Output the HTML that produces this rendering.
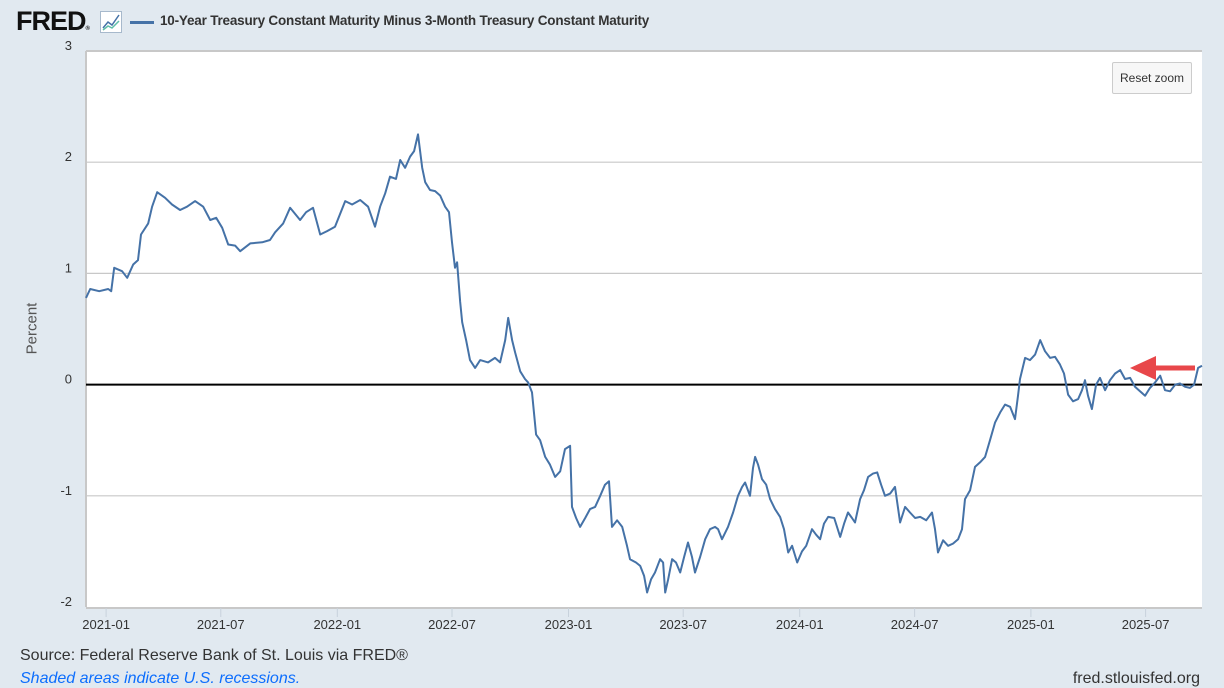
<!DOCTYPE html>
<html><head><meta charset="utf-8">
<style>
html,body{margin:0;padding:0;}
body{width:1224px;height:687px;background:#e1e9f0;font-family:"Liberation Sans",sans-serif;position:relative;overflow:hidden;}
.abs{position:absolute;}
</style></head>
<body>
<div class="abs" style="left:16px;top:6px;font-size:27px;font-weight:bold;letter-spacing:-1px;color:#111;">FRED<span style="font-size:6px;">®</span></div>
<svg class="abs" style="left:100px;top:11px" width="22" height="22" viewBox="0 0 22 22">
<rect x="0.5" y="0.5" width="21" height="21" fill="#fff" stroke="#a7b9cc"/>
<polyline points="3,17 8,11 12,14 19,4" fill="none" stroke="#4572a7" stroke-width="1.5"/>
<polyline points="3,19 8,15 12,17 19,10" fill="none" stroke="#5fbfa8" stroke-width="1.5"/>
</svg>
<div class="abs" style="left:130px;top:21px;width:24px;height:3px;background:#4572a7"></div>
<div class="abs" style="left:160px;top:13px;font-size:13.5px;font-weight:bold;color:#333;letter-spacing:-0.2px">10-Year Treasury Constant Maturity Minus 3-Month Treasury Constant Maturity</div>
<svg id="chart" class="abs" style="left:0;top:0" width="1224" height="687"></svg>
<div class="abs" style="left:1112px;top:62px;width:80px;height:32px;box-sizing:border-box;border:1px solid #ccc;border-radius:2px;background:#f7f7f7;font-size:12px;color:#333;text-align:center;line-height:30px">Reset zoom</div>
<div class="abs" style="left:2px;top:320px;width:60px;text-align:center;transform:rotate(-90deg);font-size:15px;color:#555">Percent</div>
<div class="abs" style="left:20px;top:647px;font-size:16px;color:#333">Source: Federal Reserve Bank of St. Louis via FRED®</div>
<div class="abs" style="left:20px;top:670px;font-size:16px;color:#0d6efd;font-style:italic">Shaded areas indicate U.S. recessions.</div>
<div class="abs" style="right:24px;top:670px;font-size:16px;color:#333">fred.stlouisfed.org</div>
<script>
// years since 2021-01-01
const dates=[-0.087,-0.069,-0.030,0.009,0.022,0.035,0.069,0.091,0.117,0.138,0.151,0.182,0.199,0.221,0.255,0.285,0.320,0.350,0.385,0.420,0.450,0.476,0.502,0.528,0.558,0.580,0.623,0.675,0.709,0.731,0.766,0.796,0.839,0.865,0.895,0.926,0.956,0.990,1.034,1.064,1.099,1.133,1.163,1.185,1.207,1.228,1.254,1.272,1.293,1.315,1.332,1.349,1.367,1.380,1.401,1.423,1.445,1.466,1.483,1.496,1.509,1.518,1.531,1.540,1.557,1.574,1.596,1.618,1.652,1.682,1.704,1.726,1.739,1.756,1.769,1.791,1.812,1.825,1.842,1.860,1.877,1.899,1.920,1.942,1.964,1.985,2.007,2.015,2.033,2.050,2.072,2.093,2.115,2.137,2.158,2.175,2.188,2.210,2.232,2.253,2.266,2.292,2.310,2.327,2.340,2.357,2.374,2.396,2.409,2.418,2.431,2.448,2.465,2.483,2.500,2.517,2.534,2.547,2.569,2.591,2.612,2.634,2.647,2.664,2.690,2.712,2.733,2.751,2.764,2.785,2.798,2.807,2.820,2.837,2.855,2.872,2.893,2.915,2.932,2.950,2.967,2.989,3.010,3.028,3.053,3.071,3.088,3.105,3.123,3.149,3.175,3.192,3.209,3.226,3.239,3.261,3.278,3.296,3.317,3.335,3.352,3.369,3.391,3.412,3.434,3.456,3.477,3.499,3.521,3.547,3.572,3.585,3.598,3.620,3.642,3.663,3.685,3.702,3.715,3.737,3.758,3.780,3.802,3.823,3.845,3.867,3.888,3.910,3.931,3.944,3.953,3.975,3.996,4.018,4.040,4.061,4.083,4.104,4.126,4.143,4.161,4.182,4.204,4.221,4.234,4.247,4.264,4.282,4.299,4.321,4.342,4.364,4.386,4.407,4.429,4.450,4.472,4.494,4.515,4.537,4.559,4.580,4.602,4.624,4.645,4.667,4.688,4.706,4.723,4.740];
const spread=[0.78,0.86,0.84,0.86,0.84,1.05,1.02,0.96,1.08,1.12,1.35,1.45,1.6,1.73,1.68,1.62,1.57,1.6,1.65,1.6,1.48,1.5,1.41,1.26,1.25,1.2,1.27,1.28,1.3,1.37,1.45,1.59,1.48,1.55,1.59,1.35,1.38,1.42,1.65,1.62,1.66,1.6,1.42,1.6,1.72,1.87,1.85,2.02,1.95,2.05,2.1,2.25,1.95,1.82,1.75,1.74,1.7,1.6,1.55,1.28,1.05,1.1,0.75,0.56,0.4,0.22,0.15,0.22,0.2,0.24,0.2,0.4,0.6,0.4,0.29,0.12,0.05,0.02,-0.07,-0.45,-0.5,-0.65,-0.72,-0.83,-0.78,-0.58,-0.55,-1.1,-1.2,-1.28,-1.2,-1.12,-1.1,-1.0,-0.9,-0.87,-1.28,-1.22,-1.28,-1.45,-1.57,-1.6,-1.63,-1.72,-1.87,-1.75,-1.69,-1.57,-1.6,-1.87,-1.75,-1.57,-1.6,-1.69,-1.55,-1.42,-1.55,-1.69,-1.55,-1.39,-1.3,-1.28,-1.3,-1.39,-1.28,-1.15,-1.0,-0.92,-0.88,-1.0,-0.75,-0.65,-0.72,-0.85,-0.9,-1.03,-1.12,-1.19,-1.3,-1.51,-1.45,-1.6,-1.5,-1.45,-1.3,-1.35,-1.39,-1.25,-1.19,-1.2,-1.37,-1.25,-1.15,-1.2,-1.24,-1.03,-0.95,-0.83,-0.8,-0.79,-0.9,-1.0,-0.98,-0.92,-1.24,-1.1,-1.15,-1.2,-1.19,-1.22,-1.15,-1.3,-1.51,-1.4,-1.45,-1.43,-1.39,-1.3,-1.03,-0.95,-0.74,-0.7,-0.65,-0.5,-0.34,-0.25,-0.18,-0.2,-0.31,-0.1,0.05,0.24,0.22,0.27,0.4,0.3,0.24,0.25,0.18,0.1,-0.09,-0.15,-0.13,-0.05,0.04,-0.1,-0.22,0.0,0.06,-0.05,0.04,0.1,0.13,0.05,0.06,-0.02,-0.06,-0.1,-0.03,0.02,0.08,-0.05,-0.06,0.0,0.01,-0.02,-0.03,0.0,0.15,0.17];
const xTicks=[0,0.496,1,1.496,2,2.496,3,3.497,4,4.496];
const xTickLabels=["2021-01","2021-07","2022-01","2022-07","2023-01","2023-07","2024-01","2024-07","2025-01","2025-07"];
const yTicks=[3,2,1,0,-1,-2];
const yTickLabels=["3","2","1","0","-1","-2"];

const L=86,R=1202,T=51,B=607;
const tMin=-0.087,tMax=4.740,vMin=-2,vMax=3;
function xs(t){return L+(t-tMin)/(tMax-tMin)*(R-L);}
function ys(v){return B-(v-vMin)/(vMax-vMin)*(B-T);}
const svg=document.getElementById('chart');
const NS='http://www.w3.org/2000/svg';
function mk(tag,attrs){const e=document.createElementNS(NS,tag);for(const k in attrs)e.setAttribute(k,attrs[k]);svg.appendChild(e);return e;}
let el=mk('rect',{x:L,y:T,width:R-L,height:B-T,fill:'#fff'});


yTicks.forEach((v,i)=>{
  if(v!==0&&v!==vMin){
    const g=mk('line',{x1:L,x2:R,y1:ys(v),y2:ys(v),stroke:'#c8c8c8','stroke-width':v===vMax?2:1.2});
    
    
  }
  const tx=mk('text',{x:72,y:ys(v)-1,'text-anchor':'end','font-size':13,fill:'#333','font-family':'Liberation Sans, sans-serif'});
  tx.textContent=yTickLabels[i];
  
  
});
el=mk('line',{x1:L,x2:L,y1:T,y2:B,stroke:'#c8c8c8','stroke-width':2});


el=mk('line',{x1:L,x2:R,y1:B+1,y2:B+1,stroke:'#c8c8c8','stroke-width':2});


xTicks.forEach((t,i)=>{
  const tk=mk('line',{x1:xs(t),x2:xs(t),y1:B+1,y2:B+10,stroke:'#c8d2dc','stroke-width':1});
  
  
  const tx=mk('text',{x:xs(t),y:B+22,'text-anchor':'middle','font-size':13,fill:'#333','font-family':'Liberation Sans, sans-serif'});
  tx.textContent=xTickLabels[i];
  
  
});
el=mk('line',{x1:L,x2:R,y1:ys(0),y2:ys(0),stroke:'#000','stroke-width':2});


const pts=dates.map((t,i)=>xs(t).toFixed(1)+','+ys(spread[i]).toFixed(1)).join(' ');
el=mk('polyline',{points:pts,fill:'none',stroke:'#4572a7','stroke-width':2,'stroke-linejoin':'round'});


el=mk('line',{x1:1195,x2:1150,y1:368,y2:368,stroke:'#e8474a','stroke-width':5});


el=mk('polygon',{points:'1130,368 1156,356 1156,380',fill:'#e8474a'});


</script>
</body></html>
